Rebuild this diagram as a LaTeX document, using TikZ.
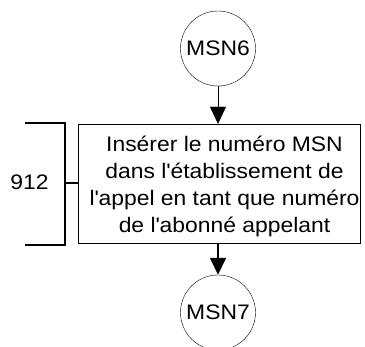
\documentclass[tikz,border=0pt]{standalone}
\usepackage{fontspec}
\setmainfont{Liberation Sans}[FakeStretch=1.09]
\usetikzlibrary{shapes,arrows.meta}
\newcommand{\ap}{\textquotesingle}
\tikzset{
	conn/.style     = {draw, circle, minimum size = 75pt, inner sep = 0pt},
	block/.style    = {draw, rectangle, minimum height = 119pt,
		minimum width = 282pt},
	blocktext/.style = {align = center, inner sep = 0pt,
		font = \fontsize{21}{27}\selectfont},
	brace/.style    = {line width = 2pt},
	input/.style    = {coordinate} % Bracket ends
}

\begin{document}
\begin{tikzpicture}[x=1pt, y=-1pt, font=\fontsize{21}{27}\selectfont,
	>={Triangle[width=16pt,length=17pt]}]
	\useasboundingbox (0,0) rectangle (365,347);
	\draw
	node at (218,48.5)[conn] (m6) {MSN6}
	node at (219,183.5)[block] (b1) {}
	node at (224.5,186)[blocktext] (t1) {Insérer le numéro MSN\\dans l\ap établissement de\\l\ap appel en tant que numéro\\de l\ap abonné appelant}
	node at (218,312.5)[conn] (m7) {MSN7}
	node at (29.5,182) (ref) {912}
	node at (25,123)[input] (br1) {}
	node at (65,123)[input] (br2) {}
	node at (65,245)[input] (br3) {}
	node at (25,245)[input] (br4) {}
	;
	
	\draw[->] (m6.south) -- (m6.south |- b1.north);
	\draw[->, line width=1.5pt] (b1.south -| m7) -- (m7.north);
	\draw[brace] (br1) -- (br2) -- (br3) -- (br4);
	\draw[brace] (br2 |- b1.west) -- (b1.west);
\end{tikzpicture}
\end{document}
